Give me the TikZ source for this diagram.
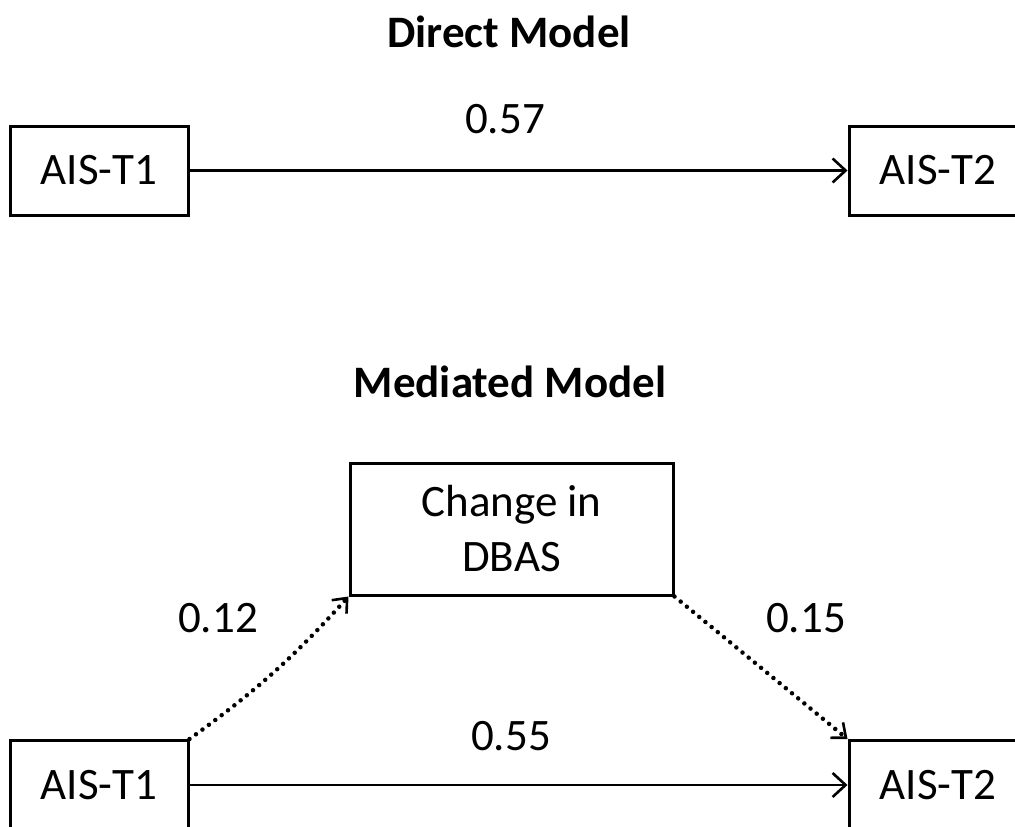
\documentclass[tikz,border=0pt]{standalone}
\usepackage{fontspec}
\setmainfont{Carlito}
\usetikzlibrary{arrows.meta}
\begin{document}
\begin{tikzpicture}[x=1pt,y=-1pt,
  box/.style={draw, line width=3pt, inner sep=0pt, font=\fontsize{45}{55}\selectfont, align=center},
  lbl/.style={font=\fontsize{45}{55}\selectfont, anchor=base, inner sep=0pt},
  ttl/.style={font=\fontsize{45}{55}\selectfont\bfseries, anchor=base, inner sep=0pt},
  conn/.style={line width=2.6pt, -{Straight Barb[length=13pt,width=24pt,line width=2.6pt]}},
  dotline/.style={line width=4.5pt, line cap=round, dash pattern=on 0.01pt off 8pt,
    -{Straight Barb[length=12pt,width=20pt,line width=2.6pt]}}]
\useasboundingbox (0,0) rectangle (1015,827);
\clip (0,0) rectangle (1015,827);

% Direct model
\node[ttl] (dtitle) at (509,47) {Direct Model};
\node[box, minimum width=178pt, minimum height=89pt] (t1) at (99,170.5) {AIS-T1};
\node[box, minimum width=178pt, minimum height=89pt] (t2) at (938,170.5) {AIS-T2};
\draw[conn] (t1.east) -- (t2.west);
\node[lbl] (l57) at (505,133) {0.57};

% Mediated model
\node[ttl] (mtitle) at (510,397) {Mediated Model};
\node[box, minimum width=323pt, minimum height=132pt] (m) at (511.5,529) {Change in\\DBAS};
\node[box, minimum width=178pt, minimum height=89pt] (b1) at (99,785) {AIS-T1};
\node[box, minimum width=178pt, minimum height=89pt] (b2) at (938,785) {AIS-T2};
\draw[conn] (b1.east) -- (b2.west);
\draw[dotline] (b1.north east) to[bend right=6] (m.south west);
\draw[dotline] (m.south east) -- (b2.north west);
\node[lbl] (l55) at (511,750) {0.55};
\node[lbl] (l12) at (218,632) {0.12};
\node[lbl] (l15) at (806,632) {0.15};
\end{tikzpicture}
\end{document}
